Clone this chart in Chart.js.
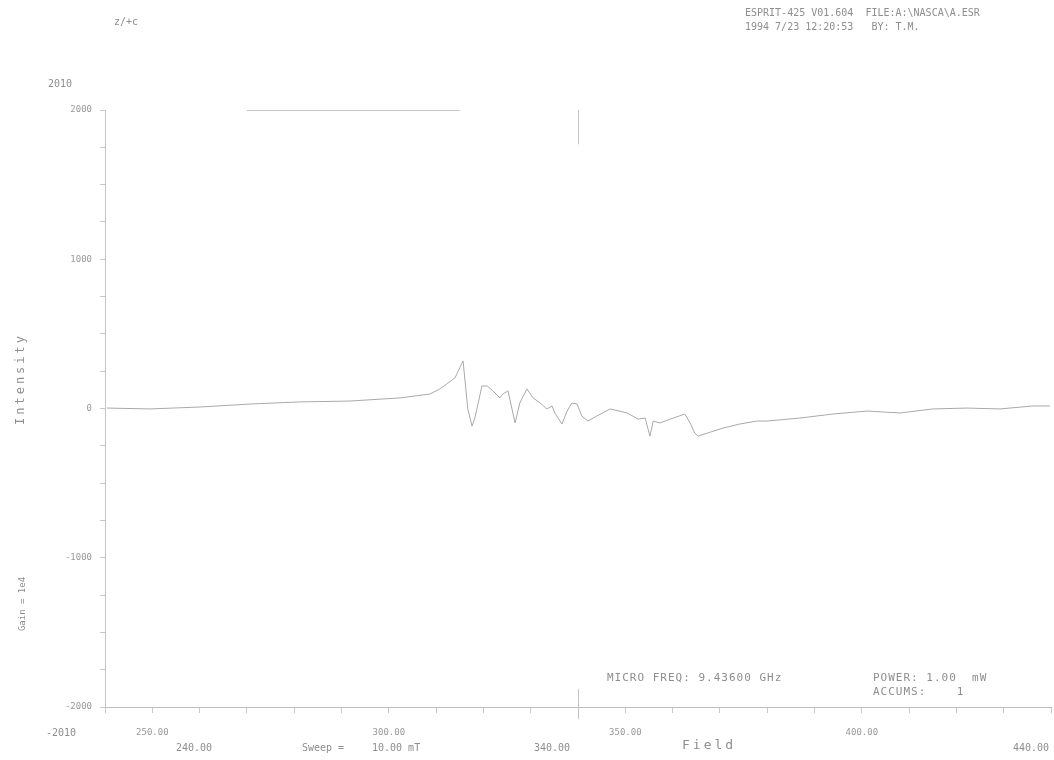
<!DOCTYPE html>
<html><head><meta charset="utf-8">
<script src="https://cdn.jsdelivr.net/npm/chart.js@4/dist/chart.umd.min.js"></script>
<style>
html,body{margin:0;padding:0;background:#fff;width:1054px;height:760px;overflow:hidden;}
#wrap{position:relative;width:1054px;height:760px;}
canvas{position:absolute;left:0;top:0;}
.t{position:absolute;font-family:"DejaVu Sans Mono",monospace;font-size:10px;color:#8e8e8e;white-space:pre;line-height:12px;}
.w{font-size:11px;letter-spacing:1px;}
.rot{transform-origin:center center;transform:rotate(-90deg);}
</style></head><body>
<div id="wrap">
<canvas id="c" width="1054" height="760"></canvas>
<div class="t" style="left:114px;top:16px;">z/+c</div>
<div class="t" style="left:745px;top:7px;">ESPRIT-425 V01.604  FILE:A:\NASCA\A.ESR</div>
<div class="t" style="left:745px;top:21px;">1994 7/23 12:20:53   BY: T.M.</div>
<div class="t" style="left:48px;top:78px;">2010</div>
<div class="t" style="left:46px;top:727px;">-2010</div>
<div class="t" style="left:176px;top:742px;">240.00</div>
<div class="t" style="left:302px;top:742px;">Sweep =</div>
<div class="t" style="left:372px;top:742px;">10.00 mT</div>
<div class="t" style="left:534px;top:742px;">340.00</div>
<div class="t" style="left:682px;top:739px;font-size:13px;letter-spacing:3px;">Field</div>
<div class="t" style="left:1013px;top:742px;">440.00</div>
<div class="t w" style="left:607px;top:672px;">MICRO FREQ: 9.43600 GHz</div>
<div class="t w" style="left:873px;top:672px;">POWER: 1.00  mW</div>
<div class="t w" style="left:873px;top:686px;">ACCUMS:    1</div>
<div class="t rot" style="left:-30px;top:373px;width:100px;text-align:center;font-size:12px;letter-spacing:3px;">Intensity</div>
<div class="t rot" style="left:-28px;top:598px;width:100px;text-align:center;font-size:9px;">Gain = 1e4</div>
</div>
<script>
// Field (mT) and intensity
const fieldValues = [240.4,249.5,260.1,270.7,281.2,291.8,302.4,308.7,310.8,314.0,315.7,316.7,317.6,318.2,319.7,320.8,322.0,323.5,324.1,325.2,326.7,327.7,329.2,330.5,332.0,333.4,334.5,335.1,336.6,337.7,338.7,339.8,340.8,342.1,344.0,346.8,350.4,352.7,354.2,355.2,355.9,357.3,359.5,362.6,363.7,364.7,365.4,367.3,370.7,374.2,377.8,380.0,386.9,393.9,401.1,408.1,415.0,422.2,429.2,436.2,439.8];
const intensityValues = [3,-3,10,30,44,50,71,97,131,205,319,-3,-118,-64,151,151,118,71,97,118,-97,37,131,71,37,-3,17,-30,-104,-17,37,30,-50,-84,-50,-3,-30,-71,-64,-185,-84,-97,-71,-37,-97,-165,-185,-165,-131,-104,-84,-84,-64,-37,-17,-30,-3,3,-3,17,17];
const xMajorLabels = [250,300,350,400];
const yMajorLabels = [-2000,-1000,0,1000,2000];
const xRange = [240,440];
const yRange = [-2000,2000];
// faint frame pieces of the plotter (in data units)
const topFrame = [270,315];
const centerField = 340;

const points = fieldValues.map((x,i)=>({x:x,y:intensityValues[i]}));

const framePlugin = {
  id:'frame',
  afterDraw(chart){
    const {ctx, scales:{x,y}} = chart;
    ctx.save();
    ctx.strokeStyle = '#c4c4c4';
    ctx.lineWidth = 1;
    ctx.beginPath();
    ctx.moveTo(x.getPixelForValue(topFrame[0]), y.getPixelForValue(yRange[1])+0.5);
    ctx.lineTo(x.getPixelForValue(topFrame[1]), y.getPixelForValue(yRange[1])+0.5);
    ctx.stroke();
    const cx = Math.round(x.getPixelForValue(centerField))+0.5;
    ctx.beginPath();
    ctx.moveTo(cx, y.getPixelForValue(yRange[1]));
    ctx.lineTo(cx, y.getPixelForValue(yRange[1]-230));
    ctx.moveTo(cx, y.getPixelForValue(yRange[0]+120));
    ctx.lineTo(cx, y.getPixelForValue(yRange[0])+12);
    ctx.stroke();
    ctx.restore();
  }
};

new Chart(document.getElementById('c'), {
  type:'scatter',
  data:{datasets:[{
    data:points, showLine:true, borderColor:'#a9a9a9', borderWidth:1,
    pointRadius:0, tension:0, fill:false
  }]},
  options:{
    responsive:false, animation:false,
    layout:{padding:{top:110,right:3,bottom:0,left:0}},
    plugins:{legend:{display:false},tooltip:{enabled:false}},
    scales:{
      x:{type:'linear', min:xRange[0], max:xRange[1],
        afterFit(s){s.height=53; s.paddingLeft=0; s.paddingRight=0;},
        border:{color:'#bdbdbd'},
        grid:{drawOnChartArea:false, drawTicks:true, tickLength:6, color:'#c8c8c8'},
        ticks:{stepSize:10, autoSkip:false, maxRotation:0, padding:14, color:'#999',
          font:{family:'DejaVu Sans Mono', size:9},
          callback:(v)=>xMajorLabels.includes(v)?v.toFixed(2):''}
      },
      y:{type:'linear', min:yRange[0], max:yRange[1],
        afterFit(s){s.width=105; s.paddingTop=0; s.paddingBottom=0;},
        border:{color:'#c4c4c4'},
        grid:{drawOnChartArea:false, drawTicks:true, tickLength:5, color:'#c8c8c8'},
        ticks:{stepSize:250, autoSkip:false, padding:8, color:'#999',
          font:{family:'DejaVu Sans Mono', size:9},
          callback:(v)=>yMajorLabels.includes(v)?String(v):''}
      }
    }
  },
  plugins:[framePlugin]
});
</script>
</body></html>
